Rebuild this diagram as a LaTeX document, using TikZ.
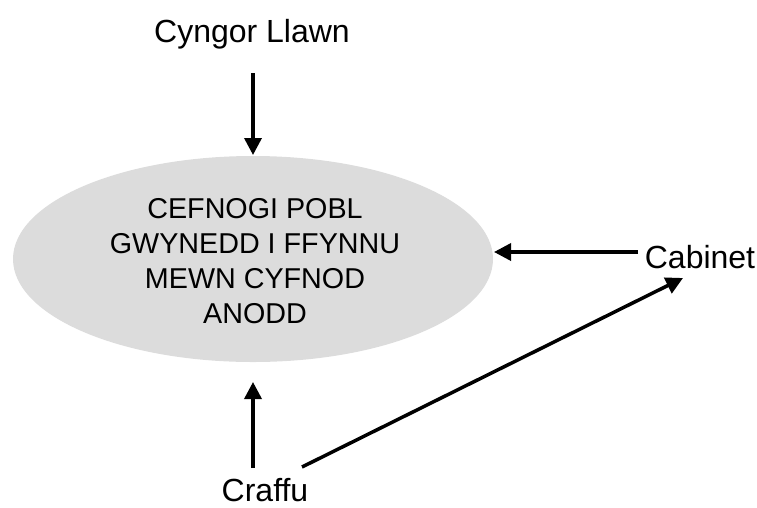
\documentclass[tikz,border=0pt]{standalone}
\usepackage{fontspec}
\setmainfont{Liberation Sans}
\usetikzlibrary{arrows.meta,shapes.geometric}
\definecolor{ellgray}{HTML}{DCDCDC}
\begin{document}
\begin{tikzpicture}[x=1pt,y=-1pt,
  lbl/.style={inner sep=0pt,anchor=base,font=\fontsize{32}{38}\selectfont},
  arr/.style={line width=3.5pt,-{Triangle[length=17pt,width=17pt]}}]
\useasboundingbox (0,0) rectangle (757,507);
\node[ellipse,fill=ellgray,minimum width=480pt,minimum height=206pt,inner sep=0pt] (ell) at (253,259) {};
\node[inner sep=0pt,align=center,font=\fontsize{28.7}{35}\selectfont] (elltext) at (255,261)
  {CEFNOGI POBL\\GWYNEDD I FFYNNU\\MEWN CYFNOD\\ANODD};
\node[lbl] (cyngor) at (252,42) {Cyngor Llawn};
\node[lbl] (cab) at (700,268) {Cabinet};
\node[lbl] (craffu) at (265,501) {Craffu};
\coordinate (ctop) at (253,73);
\coordinate (ctip) at (253,155);
\coordinate (cabs) at (638,252);
\coordinate (cabin) at (494,252);
\coordinate (crs) at (253,468);
\coordinate (crafftop) at (253,382);
\coordinate (crd) at (302,467);
\coordinate (cabtip) at (683,278);
\draw[arr] (ctop) -- (ctip);
\draw[arr] (cabs) -- (cabin);
\draw[arr] (crs) -- (crafftop);
\draw[arr] (crd) -- (cabtip);
\end{tikzpicture}
\end{document}
